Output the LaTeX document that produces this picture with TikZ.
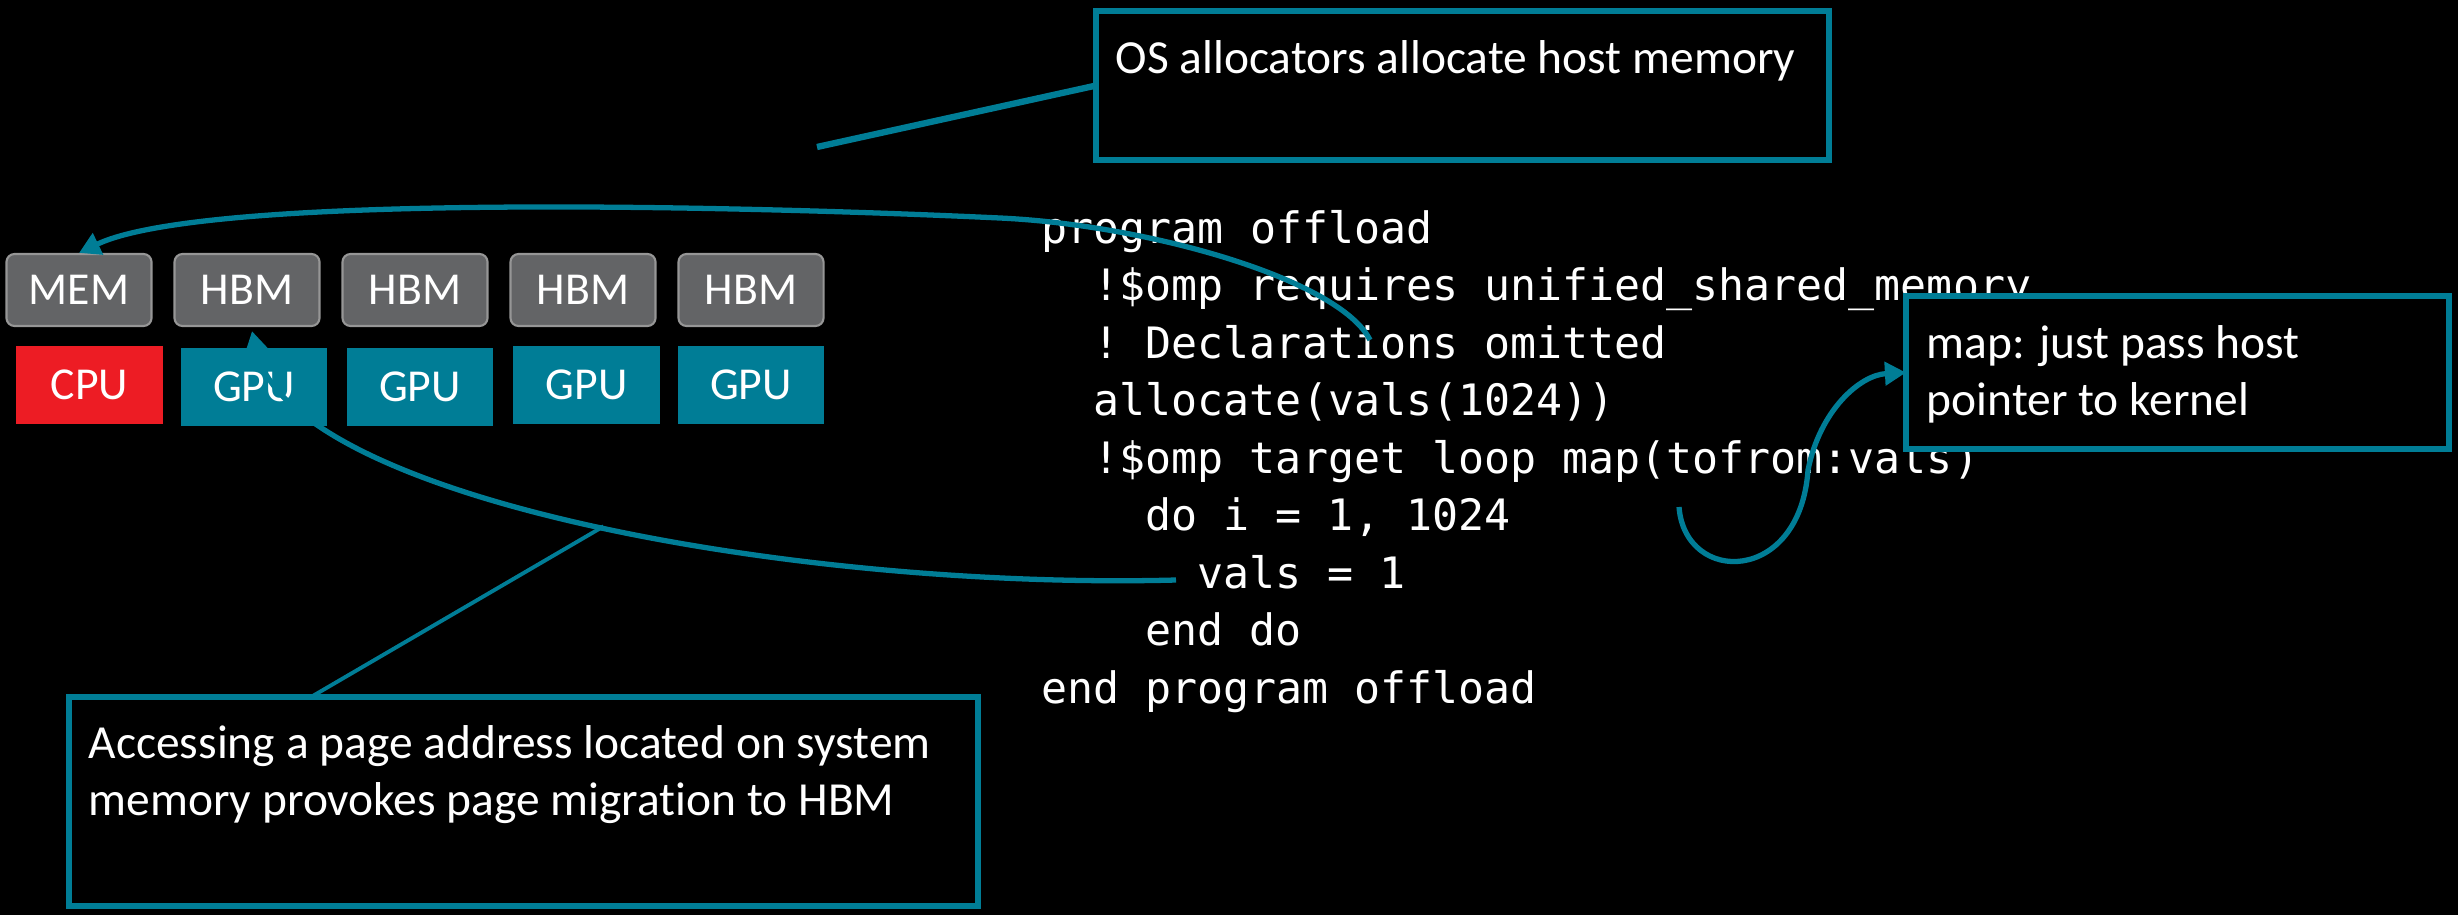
\documentclass[tikz,border=0pt]{standalone}
\usepackage{fontspec}
\setmainfont{Carlito}[Ligatures=NoCommon]
\newfontfamily\codefont{DejaVu Sans Mono}
\usetikzlibrary{arrows.meta,calc}
\definecolor{amdteal}{RGB}{0,125,150}
\definecolor{cpured}{RGB}{237,28,36}
\definecolor{memgray}{RGB}{99,100,102}
\definecolor{memedge}{RGB}{150,150,150}
\begin{document}
\begin{tikzpicture}[x=0.01cm,y=-0.01cm,
  lbl/.style={text=white,inner sep=0pt,font=\fontsize{13}{15}\selectfont},
  membox/.style={lbl,draw=memedge,fill=memgray,rounded corners=2.3pt,line width=0.6pt,minimum width=1.45cm,minimum height=0.72cm},
  cpubox/.style={lbl,fill=cpured,minimum width=1.47cm,minimum height=0.78cm},
  gpubox/.style={lbl,fill=amdteal,minimum width=1.46cm,minimum height=0.78cm},
  callout/.style={draw=amdteal,line width=1.7pt,fill=black,inner sep=0pt,outer sep=0pt,anchor=north west},
  ctext/.style={anchor=base west,text=white,inner sep=0pt,font=\fontsize{13.5}{16}\selectfont},
  code/.style={anchor=base west,text=white,inner sep=0pt,font=\codefont\fontsize{12.3}{15}\selectfont\frenchspacing},
  link/.style={draw=amdteal,line width=1.5pt},
  tip/.style={-{Triangle[length=6pt,width=6.5pt]}}
]
\fill[black] (0,0) rectangle (2458,915);
\useasboundingbox (0,0) rectangle (2458,915);

% memory and processors
\node[membox] (mem)  at (79,290)  {MEM};
\node[membox] (hbm1) at (247,290) {HBM};
\node[membox] (hbm2) at (415,290) {HBM};
\node[membox] (hbm3) at (583,290) {HBM};
\node[membox] (hbm4) at (751,290) {HBM};
\node[cpubox] (cpu)  at (89.5,385) {CPU};
\node[gpubox] (gpu1) at (254,387) {GPU};
\node[gpubox] (gpu2) at (420,387) {GPU};
\node[gpubox] (gpu3) at (586.5,385) {GPU};
\node[gpubox] (gpu4) at (751,385) {GPU};

% code
\node[code] (c1) at (1041,243)   {program offload};
\node[code] (c2) at (1093,300.5) {!\$omp requires unified\_shared\_memory};
\node[code] (c3) at (1093,358)   {! Declarations omitted};
\node[code] (c4) at (1093,415.5) {allocate(vals(1024))};
\node[code] (c5) at (1093,473)   {!\$omp target loop map(tofrom:vals)};
\node[code] (c6) at (1145,530.5) {do i = 1, 1024};
\node[code] (c7) at (1197,588)   {vals = 1};
\node[code] (c8) at (1145,645.5) {end do};
\node[code] (c9) at (1041,703)   {end program offload};

% callouts
\node[callout,minimum width=7.33cm,minimum height=1.49cm] (osbox) at (1096,11) {};
\node[ctext] (ost) at (1115,73) {OS allocators allocate host memory};
\node[callout,minimum width=5.43cm,minimum height=1.53cm] (mapbox) at (1906,296) {};
\node[ctext] (mapt1) at (1926,358) {map: just pass host};
\node[ctext] (mapt2) at (1926,415) {pointer to kernel};
\node[callout,minimum width=9.08cm,minimum height=2.09cm] (accbox) at (69,697) {};
\node[ctext] (acct1) at (88,758) {Accessing a page address located on system};
\node[ctext] (acct2) at (88,815) {memory provokes page migration to HBM};

% connectors
\coordinate (osfree) at (817,147);
\draw[link,line width=1.8pt] (osbox.west) -- (osfree);

\coordinate (declpt) at (1370,340);
\draw[link,tip] (declpt) .. controls (1340,280) and (1150,225) .. (1000,218)
  .. controls (700,204) and (200,195) .. (mem.north);

\coordinate (mapfree) at (1679,507);
\draw[link,tip] (mapfree) .. controls (1685,585) and (1800,585) .. (1808,470)
  .. controls (1820,410) and (1860,375) .. (mapbox.west);

\coordinate (valsfree) at (1176,580);
\draw[link,tip] (valsfree) .. controls (800,590) and (290,500) .. ($(hbm1.south)+(5,4)$)
  coordinate[pos=0.485] (migpt);

\coordinate (acctop) at ($(accbox.north west)+(242,0)$);
\draw[link,line width=1.1pt] (acctop) -- (migpt);
\end{tikzpicture}
\end{document}
